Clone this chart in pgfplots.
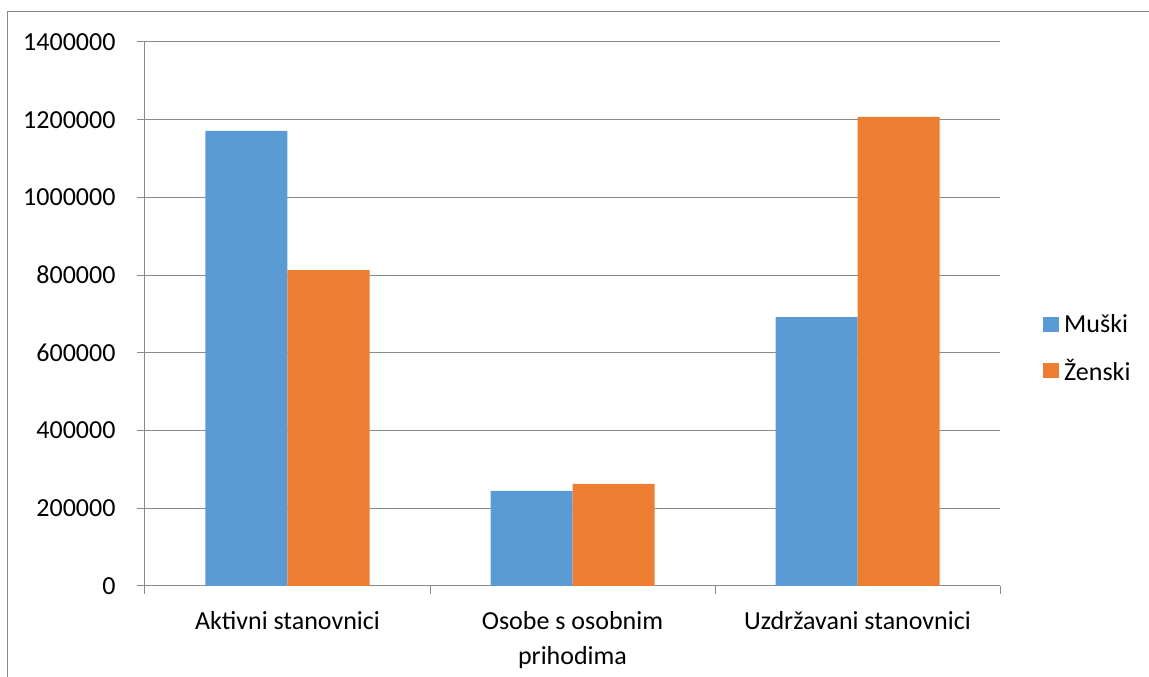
\documentclass[border=0pt]{standalone}
\usepackage{fontspec}
\setmainfont{Carlito}
\usepackage{pgfplots}
\pgfplotsset{compat=1.18}
\definecolor{muski}{HTML}{5B9BD5}
\definecolor{zenski}{HTML}{ED7D31}
\definecolor{gridc}{HTML}{8A8A8A}
\newcommand{\lab}{\fontsize{26}{35}\selectfont}
\begin{document}
\begin{tikzpicture}
\useasboundingbox (-145pt,-91pt) rectangle (1004pt,586pt);
\draw[gridc, line width=1pt] (-137pt,-95pt) -- (-137pt,574pt) -- (1010pt,574pt);
\begin{axis}[
    at={(0pt,0pt)}, anchor=south west,
    scale only axis, width=855pt, height=544pt,
    ybar=0pt, bar width=82pt,
    xmin=-0.5, xmax=2.5, ymin=0, ymax=1400000,
    axis lines=left, axis line style={gridc, line width=1pt, -},
    xtick={0,1,2},
    xticklabels={Aktivni stanovnici, Osobe s osobnim\\prihodima, Uzdržavani stanovnici},
    major x tick style={draw=none},
    minor xtick={-0.5,0.5,1.5,2.5},
    minor x tick style={gridc, line width=1pt},
    minor tick length=8pt,
    ytick={0,200000,400000,600000,800000,1000000,1200000,1400000},
    yticklabels={0,200000,400000,600000,800000,1000000,1200000,1400000},
    scaled y ticks=false,
    major tick length=8pt, tick align=outside,
    y tick style={gridc, line width=1pt},
    ymajorgrids, grid style={gridc, line width=1pt},
    tick label style={font=\lab},
    xticklabel style={align=center, yshift=-14pt},
    yticklabel style={xshift=-18pt},
    legend style={at={(1.0503,0.4375)}, anchor=west, draw=none, fill=none,
        font=\lab, row sep=25pt, inner sep=0pt, nodes={inner xsep=5pt, inner ysep=0pt}},
    legend cell align=left,
    legend image code/.code={\path[#1] (0pt,-7.5pt) rectangle (16pt,7.5pt);},
]
\addplot[fill=muski, draw=none] coordinates {(0,1171000) (1,244500) (2,692000)};
\addlegendentry{Muški}
\addplot[fill=zenski, draw=none] coordinates {(0,813000) (1,262500) (2,1207000)};
\addlegendentry{Ženski}
\end{axis}
\end{tikzpicture}
\end{document}
